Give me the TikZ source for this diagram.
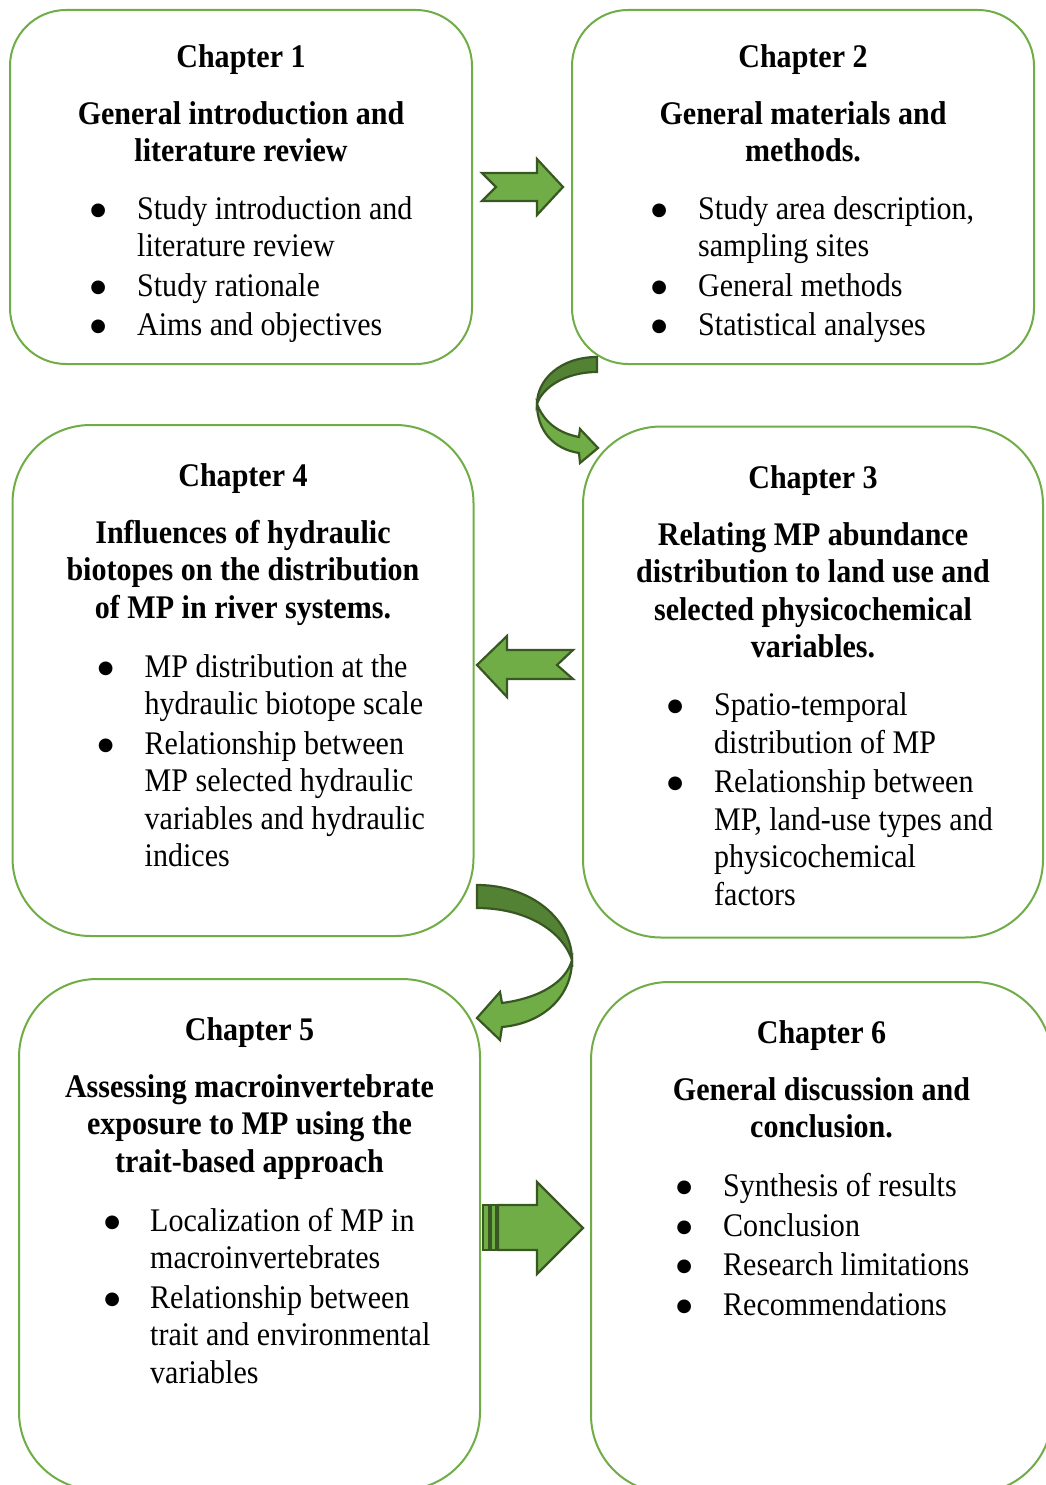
\documentclass[tikz,border=0pt]{standalone}
\usepackage{fontspec}
\setmainfont{Liberation Serif}[FakeStretch=0.91]
\newfontfamily\dotfont{DejaVu Sans}
\usepackage{tikz}
\usetikzlibrary{positioning,calc}
\definecolor{boxgreen}{RGB}{112,173,71}
\definecolor{arrowgreen}{RGB}{112,173,71}
\definecolor{arrowdark}{RGB}{84,130,53}
\definecolor{arrowline}{RGB}{56,87,35}
\newcommand{\itm}{\makebox[10.5pt][c]{\raisebox{4pt}{\dotfont\fontsize{18}{18}\selectfont ●}} &}
\tikzset{
    chapbox/.style={rectangle, draw=boxgreen, line width=2pt, fill=white, minimum width=461pt, minimum height=511pt, rounded corners=78pt},
    headtext/.style={inner sep=0pt, anchor=north, font=\fontsize{33}{37.5}\selectfont\bfseries},
    listtext/.style={inner sep=0pt, anchor=north west, font=\fontsize{33}{37.5}\selectfont},
    blockarrow/.style={draw=arrowline, fill=arrowgreen, line width=2.2pt, line join=miter}
}

\begin{document}
\begin{tikzpicture}[x=1pt, y=-1pt]
    \useasboundingbox (0,0) rectangle (1046,1485);

    % chapter boxes
    \node (ch1) [chapbox, minimum width=462pt, minimum height=354pt, rounded corners=56pt] at (241,187) {};
    \node (ch2) [chapbox, minimum width=462pt, minimum height=354pt, rounded corners=56pt] at (803,187) {};
    \node (ch4) [chapbox] at (243,680.5) {};
    \node (ch3) [chapbox, minimum width=460pt] at (813,682) {};
    \node (ch5) [chapbox] at (249.5,1234.5) {};
    \node (ch6) [chapbox] at (821.5,1237.5) {};

    % headings
    \node (h1) [headtext, below=31.75pt of ch1.north] {\begin{tabular}{@{}c@{}}Chapter 1\\[19.5pt] General introduction and\\ literature review\end{tabular}};
    \node (h2) [headtext, below=31.75pt of ch2.north] {\begin{tabular}{@{}c@{}}Chapter 2\\[19.5pt] General materials and\\ methods.\end{tabular}};
    \node (h4) [headtext, below=36pt of ch4.north] {\begin{tabular}{@{}c@{}}Chapter 4\\[19.5pt] Influences of hydraulic\\ biotopes on the distribution\\ of MP in river systems.\end{tabular}};
    \node (h3) [headtext, below=36.5pt of ch3.north] {\begin{tabular}{@{}c@{}}Chapter 3\\[19.5pt] Relating MP abundance\\ distribution to land use and\\ selected physicochemical\\ variables.\end{tabular}};
    \node (h5) [headtext, below=36pt of ch5.north] {\begin{tabular}{@{}c@{}}Chapter 5\\[19.5pt] Assessing macroinvertebrate\\ exposure to MP using the\\ trait-based approach\end{tabular}};
    \node (h6) [headtext, below=36pt of ch6.north] {\begin{tabular}{@{}c@{}}Chapter 6\\[19.5pt] General discussion and\\ conclusion.\end{tabular}};

    % bullet lists
    \node (l1) [listtext] at ($(ch1.north west)+(83.75,183.75)$) {\begin{tabular}{@{}l@{\hspace{33.75pt}}l@{}}
        \itm Study introduction and\\ & literature review\\[2pt]
        \itm Study rationale\\[2pt]
        \itm Aims and objectives\end{tabular}};
    \node (l2) [listtext] at ($(ch2.north west)+(82.75,183.75)$) {\begin{tabular}{@{}l@{\hspace{33.75pt}}l@{}}
        \itm Study area description,\\ & sampling sites\\[2pt]
        \itm General methods\\[2pt]
        \itm Statistical analyses\end{tabular}};
    \node (l4) [listtext] at ($(ch4.north west)+(88.75,226.75)$) {\begin{tabular}{@{}l@{\hspace{33.75pt}}l@{}}
        \itm MP distribution at the\\ & hydraulic biotope scale\\[2pt]
        \itm Relationship between\\ & MP selected hydraulic\\ & variables and hydraulic\\ & indices\end{tabular}};
    \node (l3) [listtext] at ($(ch3.north west)+(87.75,264)$) {\begin{tabular}{@{}l@{\hspace{33.75pt}}l@{}}
        \itm Spatio-temporal\\ & distribution of MP\\[2pt]
        \itm Relationship between\\ & MP, land-use types and\\ & physicochemical\\ & factors\end{tabular}};
    \node (l5) [listtext] at ($(ch5.north west)+(88.75,226.75)$) {\begin{tabular}{@{}l@{\hspace{32.75pt}}l@{}}
        \itm Localization of MP in\\ & macroinvertebrates\\[2pt]
        \itm Relationship between\\ & trait and environmental\\ & variables\end{tabular}};
    \node (l6) [listtext] at ($(ch6.north west)+(88.75,189.25)$) {\begin{tabular}{@{}l@{\hspace{33.75pt}}l@{}}
        \itm Synthesis of results\\[2pt]
        \itm Conclusion\\[2pt]
        \itm Research limitations\\[2pt]
        \itm Recommendations\end{tabular}};

    % block arrows between chapters
    \draw [blockarrow] (482,173) -- (537,173) -- (537,159) -- (563,187) -- (537,215) -- (537,201) -- (482,201) -- (496,187) -- cycle;
    \draw [blockarrow, fill=arrowdark] (597,357) .. controls (560,357) and (537,380) .. (537,404) .. controls (542,388) and (565,372) .. (597,372) -- cycle;
    \draw [blockarrow] (537,404) .. controls (544,422) and (558,433) .. (579,437) -- (580,429) -- (598,448) -- (580,463) -- (579,453) .. controls (553,449) and (537,430) .. (537,404) -- cycle;
    \draw [blockarrow] (477,665) -- (507,636) -- (507,650) -- (573,650) -- (557,665) -- (573,679) -- (507,679) -- (507,697) -- cycle;
    \draw [blockarrow, fill=arrowdark] (477,885) .. controls (532,885) and (572,920) .. (572,960) .. controls (562,930) and (525,908) .. (477,908) -- cycle;
    \draw [blockarrow] (572,960) .. controls (566,982) and (540,998) .. (502,1003) -- (500,992) -- (477,1018) -- (500,1040) -- (502,1027) .. controls (545,1023) and (572,995) .. (572,960) -- cycle;
    \draw [blockarrow, line width=1.4pt] (483,1205) rectangle (489,1250);
    \draw [blockarrow, line width=1.4pt] (491,1205) rectangle (496,1250);
    \draw [blockarrow] (498,1205) -- (537,1205) -- (537,1182) -- (583,1228) -- (537,1274) -- (537,1250) -- (498,1250) -- cycle;
\end{tikzpicture}
\end{document}
